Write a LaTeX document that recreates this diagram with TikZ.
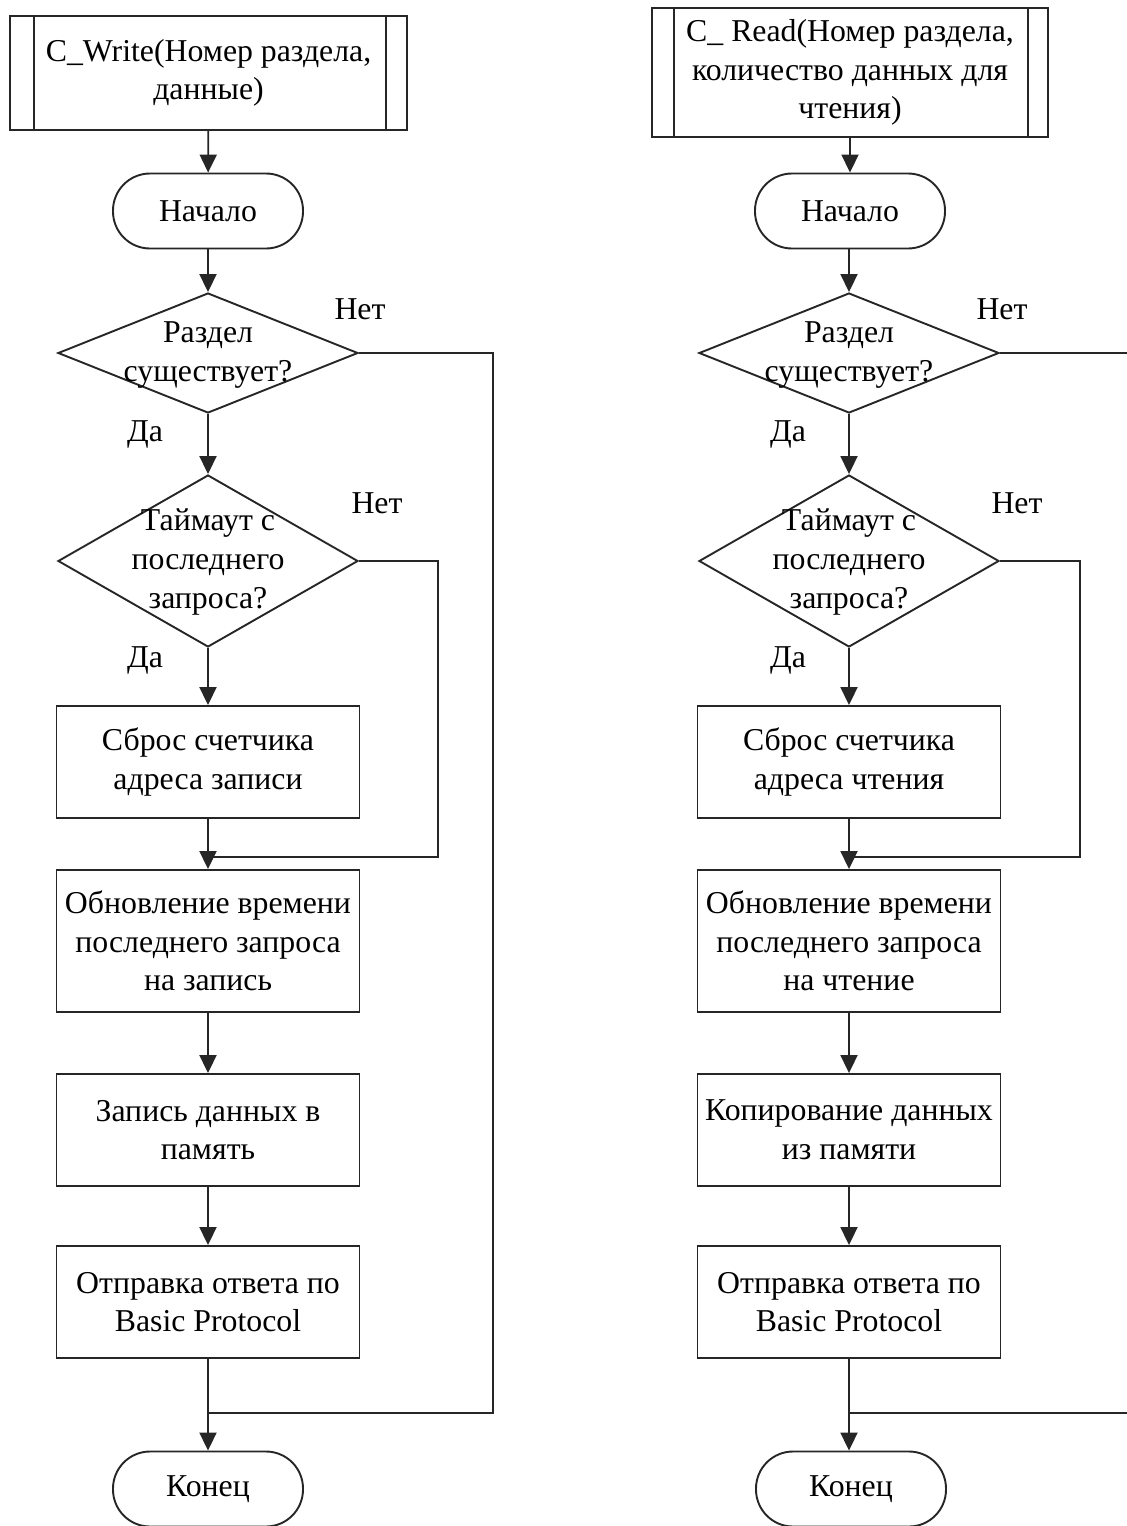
\documentclass[tikz,border=0pt]{standalone}
\usepackage{fontspec}
\setmainfont{Liberation Serif}
\usetikzlibrary{shapes.geometric,arrows.meta,calc}
\begin{document}
\begin{tikzpicture}[x=0.5pt,y=-0.5pt,
  line/.style={draw=black!85, line width=0.95pt},
  arr/.style={line, -{Triangle[width=8.5pt,length=9pt]}},
  txt/.style={font=\fontsize{15.9}{19.3}\selectfont, align=center, inner sep=0pt},
  base/.style={line, fill=white, txt},
  proc/.style={base, rectangle, minimum width=151.5pt, minimum height=56pt},
  term/.style={base, rectangle, rounded corners=18.5pt, minimum width=95pt, minimum height=37.5pt},
  dia/.style={line, fill=white, diamond, minimum width=150pt, inner sep=0pt},
  lbl/.style={txt},
]
\useasboundingbox (0,0) rectangle (1126,1526);

% ---------- C_Write ----------
\node[base, minimum width=198.5pt, minimum height=57pt] (ws) at (208.5,73)
  {C\_Write(Номер раздела,\\данные)};
\draw[line] ($(ws.north west)+(25,0)$) -- ($(ws.south west)+(25,0)$);
\draw[line] ($(ws.north east)-(22,0)$) -- ($(ws.south east)-(22,0)$);
\node[term] (wb) at (208,211) {Начало};
\node[dia, minimum height=60pt] (wd1) at (208,353) {};
\node[txt] (wd1t) at (208,355) {Раздел\\существует?};
\node[dia, minimum height=86pt] (wd2) at (208,561) {};
\node[txt] (wd2t) at (208,562) {Таймаут с\\последнего\\запроса?};
\node[proc] (wp1) at (208,762) {Сброс счетчика\\адреса записи};
\node[proc, minimum height=71pt] (wp2) at (208,941) {Обновление времени\\последнего запроса\\на запись};
\node[proc] (wp3) at (208,1130) {Запись данных в\\память};
\node[proc] (wp4) at (208,1302) {Отправка ответа по\\Basic Protocol};
\node[term] (we) at (208,1489) {Конец};

\node[lbl] (wn1) at (360,309) {Нет};
\node[lbl] (wn2) at (377,503) {Нет};
\node[lbl] (wy1) at (145,434) {Да};
\node[lbl] (wy2) at (145,660) {Да};

\coordinate (wj1) at (208,857);
\coordinate (wk1) at (438,857);
\coordinate (wj2) at (208,1413);
\coordinate (wk2) at (493,1413);

\draw[arr] (ws) -- (wb);
\draw[arr] (wb) -- (wd1);
\draw[arr] (wd1) -- (wd2);
\draw[arr] (wd2) -- (wp1);
\draw[arr] (wp1) -- (wp2);
\draw[arr] (wp2) -- (wp3);
\draw[arr] (wp3) -- (wp4);
\draw[arr] (wp4) -- (we);
\draw[line] (wd2.east) -| (wk1) -- (wj1);
\draw[line] (wd1.east) -| (wk2) -- (wj2);

% ---------- C_Read ----------
\node[base, minimum width=198pt, minimum height=64.5pt] (rs) at (850,72.5)
  {C\_ Read(Номер раздела,\\количество данных для\\чтения)};
\draw[line] ($(rs.north west)+(23,0)$) -- ($(rs.south west)+(23,0)$);
\draw[line] ($(rs.north east)-(21,0)$) -- ($(rs.south east)-(21,0)$);
\node[term] (rb) at (850,211) {Начало};
\node[dia, minimum height=60pt] (rd1) at (849,353) {};
\node[txt] (rd1t) at (849,355) {Раздел\\существует?};
\node[dia, minimum height=86pt] (rd2) at (849,561) {};
\node[txt] (rd2t) at (849,562) {Таймаут с\\последнего\\запроса?};
\node[proc] (rp1) at (849,762) {Сброс счетчика\\адреса чтения};
\node[proc, minimum height=71pt] (rp2) at (849,941) {Обновление времени\\последнего запроса\\на чтение};
\node[proc] (rp3) at (849,1130) {Копирование данных\\из памяти};
\node[proc] (rp4) at (849,1302) {Отправка ответа по\\Basic Protocol};
\node[term] (re) at (851,1489) {Конец};

\node[lbl] (rn1) at (1002,309) {Нет};
\node[lbl] (rn2) at (1017,503) {Нет};
\node[lbl] (ry1) at (788,434) {Да};
\node[lbl] (ry2) at (788,660) {Да};

\coordinate (rj1) at (849,857);
\coordinate (rk1) at (1080,857);
\coordinate (rj2) at (849,1413);
\coordinate (rk2) at (1150,1413);

\draw[arr] (rs.south -| rb) -- (rb);
\draw[arr] (rb.south -| rd1) -- (rd1);
\draw[arr] (rd1) -- (rd2);
\draw[arr] (rd2) -- (rp1);
\draw[arr] (rp1) -- (rp2);
\draw[arr] (rp2) -- (rp3);
\draw[arr] (rp3) -- (rp4);
\draw[arr] (rp4) -- (rj2) -- (rj2 |- re.north);
\draw[line] (rd2.east) -| (rk1) -- (rj1);
\draw[line] (rd1.east) -| (rk2) -- (rj2);
\end{tikzpicture}
\end{document}
